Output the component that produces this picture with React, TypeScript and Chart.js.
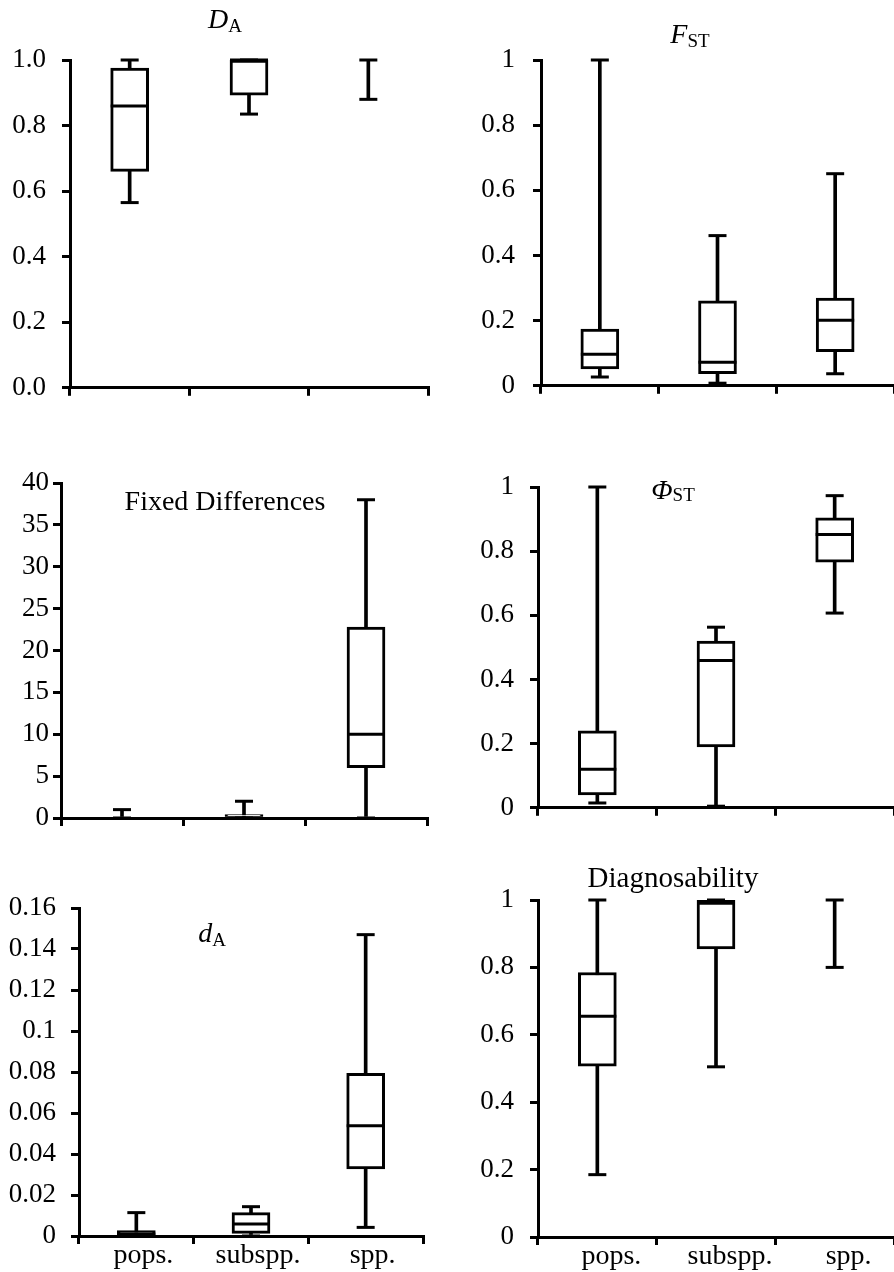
import React, { useEffect, useRef } from 'react';
import { Chart, registerables } from 'chart.js';

Chart.register(...registerables);

const FONT = "'Liberation Serif', 'Times New Roman', Times, serif";
const LW = 3;
const BOX_W = 38;
const CAP_W = 18;

const categories = ['pops.', 'subspp.', 'spp.'];

// D_A
const daMin = [0.565, 0.835, 0.88];
const daQ1 = [0.66, 0.893, 1.0];
const daMed = [0.86, 1.0, 1.0];
const daQ3 = [0.975, 1.0, 1.0];
const daMax = [1.0, 1.0, 1.0];

// F_ST
const fstMin = [0.027, 0.008, 0.037];
const fstQ1 = [0.052, 0.037, 0.105];
const fstMed = [0.097, 0.072, 0.201];
const fstQ3 = [0.174, 0.261, 0.269];
const fstMax = [1.0, 0.461, 0.651];

// Fixed differences
const fdMin = [0, 0, 0];
const fdQ1 = [0, 0, 6];
const fdMed = [0, 0, 10];
const fdQ3 = [0, 0.4, 22.8];
const fdMax = [1, 2, 38];

// Phi_ST
const phiMin = [0.015, 0.005, 0.607];
const phiQ1 = [0.04, 0.19, 0.766];
const phiMed = [0.12, 0.459, 0.852];
const phiQ3 = [0.24, 0.52, 0.904];
const phiMax = [1.0, 0.563, 0.973];

// d_A
const dMin = [0, 0, 0.0042];
const dQ1 = [0.0002, 0.0013, 0.0327];
const dMed = [0.001, 0.0059, 0.0538];
const dQ3 = [0.0027, 0.0114, 0.0794];
const dMax = [0.0114, 0.0143, 0.147];

// Diagnosability
const dgMin = [0.185, 0.505, 0.8];
const dgQ1 = [0.507, 0.855, 1.0];
const dgMed = [0.655, 0.99, 1.0];
const dgQ3 = [0.785, 1.0, 1.0];
const dgMax = [1.0, 1.0, 1.0];

type TitlePart = { text: string; italic?: boolean; size: number; dy?: number };

type Panel = {
  left: number; top: number; width: number; height: number;
  axisX: number; plotTop: number; padRight: number; xHeight: number;
  yMax: number; yStep: number; fmt?: (v: number) => string;
  labelPad: number; showLabels: boolean; labelOffset: number;
  title: TitlePart[]; titleX: number; titleY: number;
  min: number[]; q1: number[]; med: number[]; q3: number[]; max: number[];
};

const panels: Panel[] = [
  {
    left: 0, top: 0, width: 447, height: 420, axisX: 70, plotTop: 60, padRight: 19, xHeight: 26,
    yMax: 1, yStep: 0.2, fmt: (v) => v.toFixed(1), labelPad: 16, showLabels: false, labelOffset: 0,
    title: [{ text: 'D', italic: true, size: 28 }, { text: 'A', size: 19, dy: 4 }], titleX: 225, titleY: 28,
    min: daMin, q1: daQ1, med: daMed, q3: daQ3, max: daMax,
  },
  {
    left: 447, top: 0, width: 447, height: 420, axisX: 94, plotTop: 60, padRight: 0, xHeight: 26,
    yMax: 1, yStep: 0.2, labelPad: 18, showLabels: false, labelOffset: 0,
    title: [{ text: 'F', italic: true, size: 28 }, { text: 'ST', size: 19, dy: 4 }], titleX: 243, titleY: 43,
    min: fstMin, q1: fstQ1, med: fstMed, q3: fstQ3, max: fstMax,
  },
  {
    left: 0, top: 420, width: 447, height: 420, axisX: 61, plotTop: 63, padRight: 20, xHeight: 22,
    yMax: 40, yStep: 5, labelPad: 4, showLabels: false, labelOffset: 0,
    title: [{ text: 'Fixed Differences', size: 28 }], titleX: 225, titleY: 90,
    min: fdMin, q1: fdQ1, med: fdMed, q3: fdQ3, max: fdMax,
  },
  {
    left: 447, top: 420, width: 447, height: 420, axisX: 91, plotTop: 67, padRight: 0, xHeight: 20,
    yMax: 1, yStep: 0.2, labelPad: 16, showLabels: false, labelOffset: 0,
    title: [{ text: 'Φ', italic: true, size: 28 }, { text: 'ST', size: 19, dy: 2 }], titleX: 226, titleY: 79,
    min: phiMin, q1: phiQ1, med: phiMed, q3: phiQ3, max: phiMax,
  },
  {
    left: 0, top: 840, width: 447, height: 432, axisX: 79, plotTop: 68, padRight: 24, xHeight: 36,
    yMax: 0.16, yStep: 0.02, labelPad: 15, showLabels: true, labelOffset: 7,
    title: [{ text: 'd', italic: true, size: 28 }, { text: 'A', size: 19, dy: 4 }], titleX: 212, titleY: 102,
    min: dMin, q1: dQ1, med: dMed, q3: dQ3, max: dMax,
  },
  {
    left: 447, top: 840, width: 447, height: 432, axisX: 91, plotTop: 60, padRight: 0, xHeight: 35,
    yMax: 1, yStep: 0.2, labelPad: 16, showLabels: true, labelOffset: 14,
    title: [{ text: 'Diagnosability', size: 29 }], titleX: 226, titleY: 47,
    min: dgMin, q1: dgQ1, med: dgMed, q3: dgQ3, max: dgMax,
  },
];

function makeDecor(p: Panel) {
  return {
    id: 'boxDecor',
    afterDatasetsDraw(chart: any) {
      const { ctx } = chart;
      const x = chart.scales.x;
      const y = chart.scales.y;
      ctx.save();
      ctx.strokeStyle = '#000';
      ctx.lineWidth = LW;
      ctx.lineCap = 'butt';
      for (let i = 0; i < categories.length; i++) {
        const cx = x.getPixelForValue(i);
        const lines: [number, number][] = [
          [y.getPixelForValue(p.max[i]), CAP_W],
          [y.getPixelForValue(p.min[i]), CAP_W],
        ];
        if (p.q1[i] !== p.q3[i]) lines.push([y.getPixelForValue(p.med[i]), BOX_W]);
        for (const [py, w] of lines) {
          ctx.beginPath();
          ctx.moveTo(cx - w / 2, py);
          ctx.lineTo(cx + w / 2, py);
          ctx.stroke();
        }
      }
      ctx.restore();
    },
    afterDraw(chart: any) {
      const { ctx } = chart;
      ctx.save();
      ctx.fillStyle = '#000';
      ctx.textBaseline = 'alphabetic';
      ctx.textAlign = 'left';
      const fonts = p.title.map((t) => `${t.italic ? 'italic ' : ''}${t.size}px ${FONT}`);
      let total = 0;
      const widths = p.title.map((t, i) => {
        ctx.font = fonts[i];
        const w = ctx.measureText(t.text).width;
        total += w;
        return w;
      });
      let cx = p.titleX - total / 2;
      p.title.forEach((t, i) => {
        ctx.font = fonts[i];
        ctx.fillText(t.text, cx, p.titleY + (t.dy || 0));
        cx += widths[i];
      });
      ctx.restore();
    },
  };
}

function BoxPanel({ p }: { p: Panel }) {
  const ref = useRef<HTMLCanvasElement | null>(null);
  useEffect(() => {
    if (!ref.current) return;
    const chart = new Chart(ref.current, {
      type: 'bar',
      data: {
        labels: categories,
        datasets: [
          {
            label: 'box',
            data: p.q1.map((v, i) => [v, p.q3[i]]) as any,
            backgroundColor: '#fff',
            borderColor: '#000',
            borderWidth: LW,
            borderSkipped: false,
            barThickness: BOX_W,
            grouped: false,
          } as any,
          {
            label: 'whisker',
            data: p.min.map((v, i) => [v, p.max[i]]) as any,
            backgroundColor: '#000',
            borderWidth: 0,
            barThickness: LW,
            grouped: false,
          } as any,
        ],
      },
      options: {
        animation: false,
        responsive: false,
        maintainAspectRatio: false,
        events: [],
        layout: { padding: { top: p.plotTop, right: p.padRight, bottom: 0, left: 0 } },
        plugins: { legend: { display: false }, tooltip: { enabled: false }, title: { display: false } },
        scales: {
          x: {
            type: 'category',
            offset: true,
            grid: { offset: true, drawOnChartArea: false, drawTicks: true, tickLength: 8, color: '#000', lineWidth: LW },
            border: { display: true, color: '#000', width: LW },
            ticks: {
              display: p.showLabels,
              color: '#000',
              font: { family: FONT, size: 28, lineHeight: 1 },
              padding: -2,
              labelOffset: p.labelOffset,
              maxRotation: 0,
              autoSkip: false,
            },
            afterFit: (s: any) => { s.height = p.xHeight; },
          },
          y: {
            min: 0,
            max: p.yMax,
            ticks: {
              stepSize: p.yStep,
              color: '#000',
              font: { family: FONT, size: 27 },
              padding: p.labelPad,
              callback: (v: any) => (p.fmt ? p.fmt(Number(v)) : String(Math.round(Number(v) * 1000) / 1000)),
            },
            grid: { drawOnChartArea: false, drawTicks: true, tickLength: 8, color: '#000', lineWidth: LW },
            border: { display: true, color: '#000', width: LW },
            afterFit: (s: any) => { s.width = p.axisX; },
          },
        },
      } as any,
      plugins: [makeDecor(p)],
    });
    return () => chart.destroy();
  }, [p]);
  return (
    <canvas
      ref={ref}
      width={p.width}
      height={p.height}
      style={{ position: 'absolute', left: p.left, top: p.top, width: p.width, height: p.height, display: 'block' }}
    />
  );
}

export default function App() {
  return (
    <div style={{ position: 'absolute', left: 0, top: 0, width: 894, height: 1272, background: '#fff', overflow: 'hidden' }}>
      {panels.map((p, i) => (
        <BoxPanel key={i} p={p} />
      ))}
    </div>
  );
}
